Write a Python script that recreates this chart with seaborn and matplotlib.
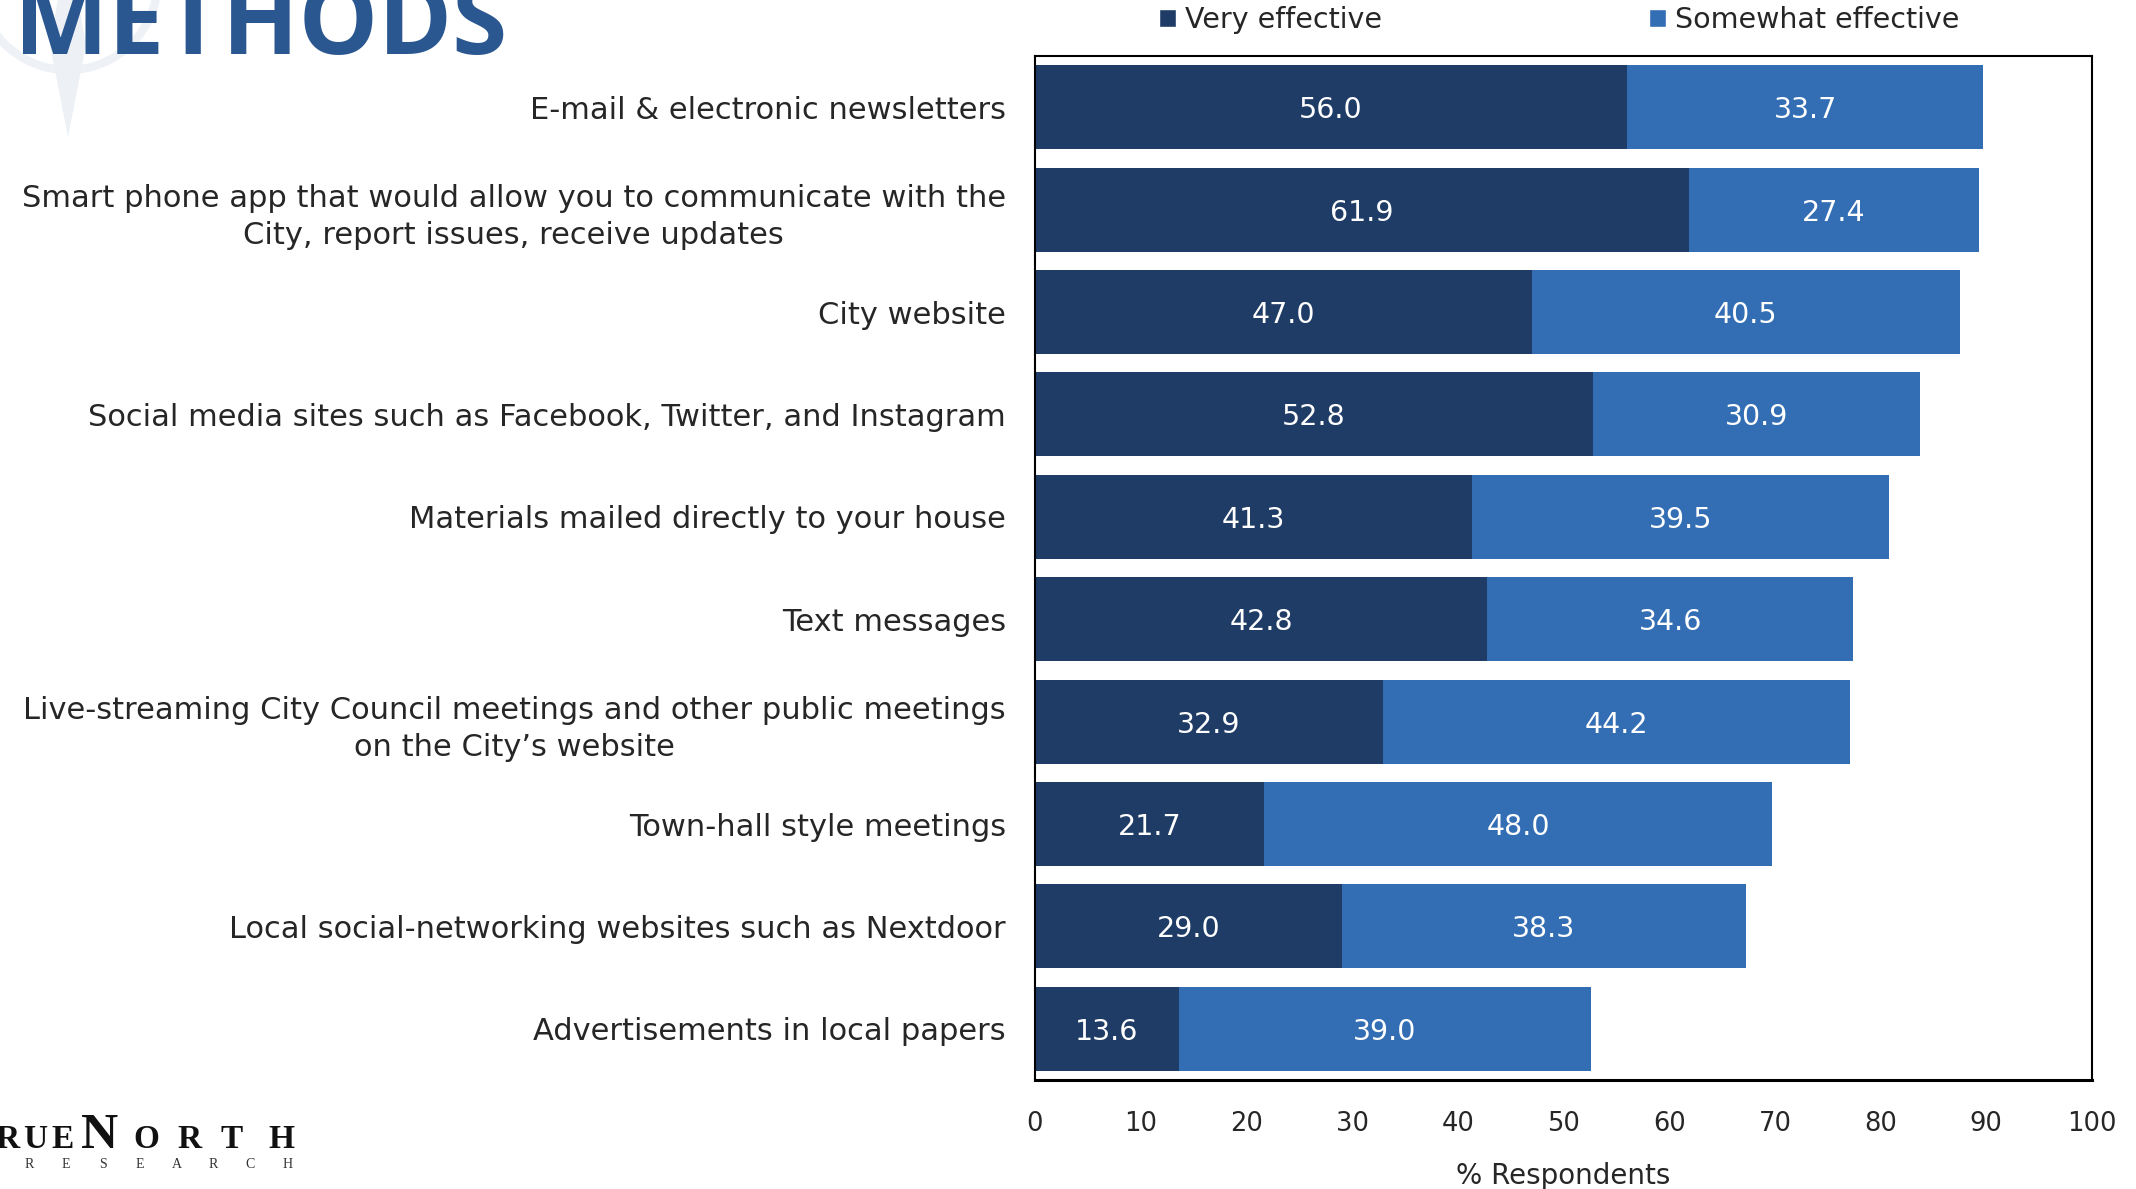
import numpy as np
import pandas as pd
import matplotlib.pyplot as plt
from matplotlib.patches import Patch, Polygon, Ellipse
import seaborn as sns

# ---------------------------------------------------------------
# Data
# ---------------------------------------------------------------
methods = [
    "E-mail & electronic newsletters",
    "Smart phone app that would allow you to communicate with the\nCity, report issues, receive updates",
    "City website",
    "Social media sites such as Facebook, Twitter, and Instagram",
    "Materials mailed directly to your house",
    "Text messages",
    "Live-streaming City Council meetings and other public meetings\non the City\u2019s website",
    "Town-hall style meetings",
    "Local social-networking websites such as Nextdoor",
    "Advertisements in local papers",
]
very_effective = [56.0, 61.9, 47.0, 52.8, 41.3, 42.8, 32.9, 21.7, 29.0, 13.6]
somewhat_effective = [33.7, 27.4, 40.5, 30.9, 39.5, 34.6, 44.2, 48.0, 38.3, 39.0]
series_names = ["Very effective", "Somewhat effective"]
x_ticks = list(range(0, 101, 10))

df = pd.DataFrame({"method": methods, "very": very_effective, "somewhat": somewhat_effective})
df["total"] = df["very"] + df["somewhat"]

# ---------------------------------------------------------------
# Style
# ---------------------------------------------------------------
sns.set_theme(style="white")
plt.rcParams["font.family"] = ["DejaVu Sans"]

DARK = "#1F3C66"
LIGHT = "#336EB4"
TITLE_BLUE = "#2B5791"
W, H = 2136, 1189

fig = plt.figure(figsize=(W / 100, H / 100), dpi=100)

# faint compass watermark behind the title
ring = Ellipse((68 / W, 1 + 20 / H), 180 / W, 180 / H, transform=fig.transFigure,
               facecolor="none", edgecolor="#EEF2F7", linewidth=6, zorder=0)
fig.patches.append(ring)
star = Polygon(
    [(68 / W, 1 + 60 / H), (86 / W, 1 - 45 / H), (68 / W, 1 - 137 / H), (50 / W, 1 - 45 / H)],
    closed=True, transform=fig.transFigure, facecolor="#EDF1F6", edgecolor="none", zorder=0,
)
fig.patches.append(star)

ax = fig.add_axes([1035 / W, 1 - 1080 / H, (2092 - 1035) / W, (1080 - 56) / H])

# stacked bars: total first (light), then "very" on top (dark)
sns.barplot(data=df, x="total", y="method", orient="h", color=LIGHT, saturation=1,
            width=0.82, errorbar=None, linewidth=0, ax=ax)
sns.barplot(data=df, x="very", y="method", orient="h", color=DARK, saturation=1,
            width=0.82, errorbar=None, linewidth=0, ax=ax)

for i, (v, s) in enumerate(zip(very_effective, somewhat_effective)):
    ax.text(v / 2, i, f"{v:.1f}", ha="center", va="center_baseline", color="white", fontsize=20.5)
    ax.text(v + s / 2, i, f"{s:.1f}", ha="center", va="center_baseline", color="white", fontsize=20.5)

ax.set_xlim(0, 100)
ax.set_ylim(len(methods) - 0.5, -0.5)
ax.set_xticks(x_ticks)
ax.set_xticklabels([str(t) for t in x_ticks])
ax.tick_params(axis="both", length=0)
ax.tick_params(axis="x", pad=22, labelsize=18.5)
ax.tick_params(axis="y", pad=21, labelsize=22)
for t in ax.get_yticklabels():
    t.set_multialignment("center")
    t.set_linespacing(1.36)
ax.set_ylabel("")
ax.set_xlabel("% Respondents", fontsize=20, labelpad=18)

for side in ["top", "bottom", "left", "right"]:
    ax.spines[side].set_visible(True)
    ax.spines[side].set_color("black")
    ax.spines[side].set_linewidth(1.5)
ax.spines["bottom"].set_linewidth(2.2)

# legend above the plot
handles = [Patch(facecolor=DARK, label=series_names[0]), Patch(facecolor=LIGHT, label=series_names[1])]
fig.legend(handles=handles, loc="center", bbox_to_anchor=(0.730, 1 - 20 / H), ncol=2,
           frameon=False, handlelength=0.6, handleheight=0.6, handletextpad=0.3,
           columnspacing=9.4, fontsize=20.5)

# slide title, partly cut off at the top
fig.text(14 / W, 1 - 54 / H, "METHODS", fontsize=72, fontweight="bold", color=TITLE_BLUE,
         family=["Open Sans", "DejaVu Sans"], ha="left", va="baseline")

# logo text, bottom left (letter-spaced serif wordmark, first letter off the slide)
serif = ["Liberation Serif", "DejaVu Serif"]
logo_base = 1 - 1148 / H
for ch, xc, size in [("T", -40, 36), ("R", 7, 24), ("U", 35, 24), ("E", 63, 24), ("N", 100, 37),
                     ("O", 146, 24), ("R", 189, 24), ("T", 232, 24), ("H", 281, 24)]:
    fig.text(xc / W, logo_base, ch, family=serif, fontsize=size, fontweight="bold",
             ha="center", va="baseline", color="#111111")
for k, ch in enumerate("RESEARCH"):
    fig.text((29 + 36.9 * k) / W, 1 - 1168 / H, ch, family=serif, fontsize=10,
             ha="center", va="baseline", color="#333333")

fig.savefig("out.png", dpi=100)
